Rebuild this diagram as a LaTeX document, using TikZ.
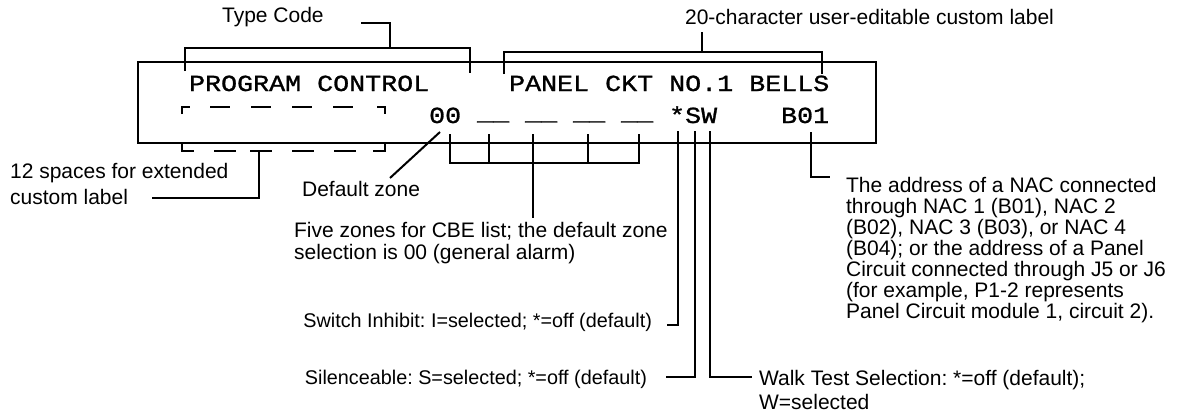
\documentclass[tikz,border=0pt]{standalone}
\usepackage{fontspec}
\setmainfont{Liberation Sans}
\newfontfamily\lcdfont[FakeStretch=1.16,FakeBold=1.2]{Liberation Mono}
\newcommand\lblfont{\fontsize{21}{21}\selectfont}
\newcommand\smlfont{\fontsize{19.8}{20}\selectfont}
\newcommand\lcdtext{\lcdfont\fontsize{23}{23}\selectfont}
\frenchspacing
\begin{document}
\begin{tikzpicture}[x=1pt,y=-1pt,line width=2.2pt,line join=miter,
  lab/.style={inner sep=0pt,font=\lblfont,anchor=base west},
  labr/.style={inner sep=0pt,font=\smlfont,anchor=base east},
  lcd/.style={inner sep=0pt,font=\lcdtext,anchor=base west},
  dashseg/.style={line width=2.6pt}]
\useasboundingbox (0,0) rectangle (1178,415);
% display frame
\node[draw,line width=2pt,minimum width=738pt,minimum height=81pt,inner sep=0pt,anchor=north west] (lcdbox) at (137,61) {};
% display text
\node[lcd] (r1a) at (188,91) {PROGRAM CONTROL};
\node[lcd] (r1b) at (508,91) {PANEL CKT NO.1 BELLS};
\node[lcd] (r2a) at (428,123) {00};
\node[lcd] (r2b) at (476,120) {\_\_ \_\_ \_\_ \_\_};
\node[lcd] (r2c) at (668,123) {*SW};
\node[lcd] (r2d) at (780,123) {B01};
% labels
\node[lab] (tc) at (221,23) {Type Code};
\node[lab] (cl) at (684,24) {20-character user-editable custom label};
\node[lab] (sp1) at (9,178) {12 spaces for extended};
\node[lab] (sp2) at (9,204) {custom label};
\node[lab] (dz) at (301,196) {Default zone};
\node[lab] (fz1) at (293,237) {Five zones for CBE list; the default zone};
\node[lab] (fz2) at (293,259) {selection is 00 (general alarm)};
\node[labr] (si) at (653,327) {Switch Inhibit: I=selected; *=off (default)};
\node[labr] (sl) at (648,384) {Silenceable: S=selected; *=off (default)};
\node[lab] (wt1) at (758,385) {Walk Test Selection: *=off (default);};
\node[lab] (wt2) at (758,409) {W=selected};
\node[lab] (ad1) at (845,192) {The address of a NAC connected};
\node[lab] (ad2) at (845,213) {through NAC 1 (B01), NAC 2};
\node[lab] (ad3) at (845,234) {(B02), NAC 3 (B03), or NAC 4};
\node[lab] (ad4) at (845,255) {(B04); or the address of a Panel};
\node[lab] (ad5) at (845,276) {Circuit connected through J5 or J6};
\node[lab] (ad6) at (845,297) {(for example, P1-2 represents};
\node[lab] (ad7) at (845,318) {Panel Circuit module 1, circuit 2).};
% type code bracket
\coordinate (tcL) at (185,71);
\coordinate (tcR) at (470,73);
\coordinate (tcTop) at (390,48);
\coordinate (tcEnd) at (361,23);
\draw (tcL) |- (tcTop) -| (tcR);
\draw (tcTop) |- (tcEnd);
% custom label bracket
\coordinate (clL) at (504,74);
\coordinate (clR) at (822,74);
\coordinate (clTop) at (702,52);
\coordinate (clEnd) at (702,32);
\draw (clL) |- (clTop) -| (clR);
\draw (clTop) -- (clEnd);
% dashed extended label box
\draw[dashseg] (182,114) -- (182,107) -- (190,107);
\draw[dashseg] (377,107) -- (385,107) -- (385,114);
\foreach \a in {210,251,292,333} {\draw[dashseg] (\a,107) -- (\a+20,107);}
\draw[dashseg] (182,142) -- (182,151) -- (194,151);
\draw[dashseg] (373,151) -- (385,151) -- (385,142);
\foreach \a in {214,250,292,334} {\draw[dashseg] (\a,151) -- (\a+22,151);}
\coordinate (spTop) at (259,151);
\coordinate (spEnd) at (152,198);
\draw (spTop) |- (spEnd);
% default zone pointer
\coordinate (dzA) at (440,132);
\coordinate (dzB) at (390,178);
\draw[line width=2pt] (dzA) -- (dzB);
% five zones bracket
\coordinate (z1) at (450,134);
\coordinate (z2) at (489,134);
\coordinate (z3) at (533,134);
\coordinate (z4) at (588,134);
\coordinate (z5) at (639,134);
\coordinate (zb) at (639,163);
\coordinate (zEnd) at (533,218);
\draw (z1) |- (zb) -- (z5);
\draw (z2) -- (z2|-zb);
\draw (z4) -- (z4|-zb);
\draw (z3) -- (zEnd);
% *SW pointers
\coordinate (swI) at (678,131);
\coordinate (swS) at (695,131);
\coordinate (swW) at (710,131);
\coordinate (siEnd) at (667,325);
\coordinate (slEnd) at (666,377);
\coordinate (wtEnd) at (752,377);
\draw (swI) |- (siEnd);
\draw (swS) |- (slEnd);
\draw (swW) |- (wtEnd);
% B01 pointer
\coordinate (bTop) at (811,132);
\coordinate (bEnd) at (830,177);
\draw (bTop) |- (bEnd);
\end{tikzpicture}
\end{document}
